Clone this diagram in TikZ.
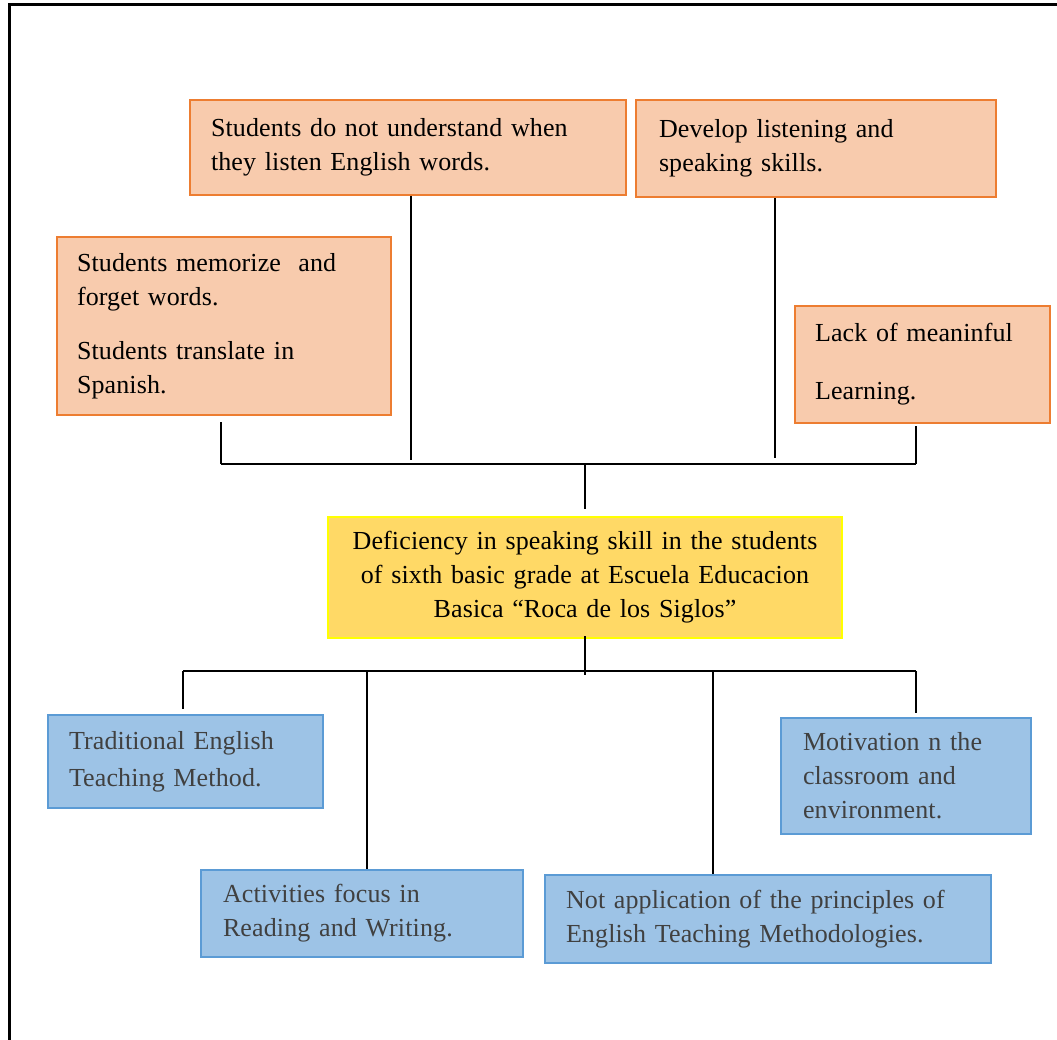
\documentclass[tikz,border=0pt]{standalone}
\usepackage{fontspec}
\setmainfont[LetterSpace=0.5]{Liberation Serif}
\usetikzlibrary{calc}
\definecolor{oline}{HTML}{ED7D31}
\definecolor{ofill}{HTML}{F8CBAD}
\definecolor{yline}{HTML}{FFFF00}
\definecolor{yfill}{HTML}{FFD966}
\definecolor{bline}{HTML}{5B9BD5}
\definecolor{bfill}{HTML}{9DC3E6}
\definecolor{btext}{HTML}{404040}
\tikzset{
  basebox/.style={rectangle, inner ysep=0pt, font=\fontsize{26}{34}\selectfont},
  obox/.style={basebox, draw=oline, fill=ofill, line width=2pt, align=left, text=black},
  ybox/.style={basebox, draw=yline, fill=yfill, line width=2.5pt, align=center, text=black},
  bbox/.style={basebox, draw=bline, fill=bfill, line width=2pt, align=left, text=btext},
  conn/.style={draw=black, line width=2.4pt},
}
\begin{document}
\begin{tikzpicture}[x=1pt,y=-1pt]
\useasboundingbox (0,0) rectangle (1057,1040);
\draw[line width=3pt] (1057,5) -- (9,5) -- (9,1040);

% effects
\node[obox, minimum width=436, minimum height=95, text width=394, inner xsep=21] (c1) at (408,147.5)
  {Students do not understand when\\they listen English words.};
\node[obox, minimum width=360, minimum height=97, text width=314, inner xsep=23] (c2) at (816,148.5)
  {Develop listening and\\speaking skills.};
\node[obox, minimum width=334, minimum height=178, text width=294, inner xsep=20] (c3) at (224,326)
  {Students memorize\ \ and\\forget words.\\[20pt]Students translate in\\Spanish.};
\node[obox, minimum width=255, minimum height=117, text width=215, inner xsep=20] (c4) at (922.5,364.5)
  {Lack of meaninful\\[24pt]Learning.};

% problem
\node[ybox, minimum width=514, minimum height=121, text width=490, inner xsep=12] (prob) at (585,577.5)
  {Deficiency\ in speaking skill in the students\\of sixth\ basic grade at Escuela Educacion\\Basica “Roca de los Siglos”};

% causes
\node[bbox, minimum width=275, minimum height=93, text width=233, inner xsep=21] (k1) at (185.5,761.5)
  {Traditional English\\[3pt]Teaching Method.};
\node[bbox, minimum width=322, minimum height=87, text width=278, inner xsep=22] (k2) at (362,913.5)
  {Activities focus in\\Reading and Writing.};
\node[bbox, minimum width=446, minimum height=88, text width=404, inner xsep=21] (k3) at (768,919)
  {Not application of the principles of\\English Teaching Methodologies.};
\node[bbox, minimum width=250, minimum height=116, text width=206, inner xsep=22] (k4) at (906,776)
  {Motivation n the\\classroom and\\environment.};

% upper tree
\coordinate (tl) at (221,464);
\coordinate (tr) at (916,464);
\coordinate (tm) at (585,464);
\coordinate (t1) at (411,460);
\coordinate (t2) at (775,458);
\draw[conn] (tl) -- (tr);
\draw[conn] ($(c3.south -| tl)+(0,6)$) -- (tl);
\draw[conn] (c1.south -| t1) -- (t1);
\draw[conn] (c2.south -| t2) -- (t2);
\draw[conn] ($(c4.south -| tr)+(0,2)$) -- (tr);
\draw[conn] (tm) -- ($(prob.north)+(0,-7)$);

% lower tree
\coordinate (bl) at (183,671);
\coordinate (br) at (916,671);
\coordinate (bm) at (585,675);
\coordinate (s2) at (367,671);
\coordinate (s3) at (713,671);
\draw[conn] (bl) -- (br);
\draw[conn] ($(prob.south)+(0,-3)$) -- (bm);
\draw[conn] (bl) -- ($(k1.north -| bl)+(0,-5)$);
\draw[conn] (s2) -- (k2.north -| s2);
\draw[conn] (s3) -- (k3.north -| s3);
\draw[conn] (br) -- ($(k4.north -| br)+(0,-4)$);
\end{tikzpicture}
\end{document}
